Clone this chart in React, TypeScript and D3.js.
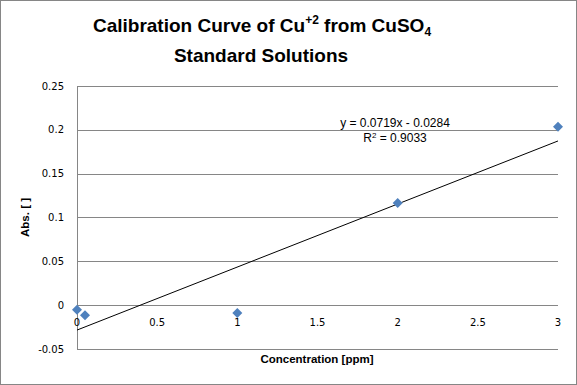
import React from 'react';
import * as d3 from 'd3';

const concentration = [0, 0.05, 1, 2, 3];
const absorbance = [-0.0053, -0.0114, -0.009, 0.1165, 0.2035];
const yTicks = [-0.05, 0, 0.05, 0.1, 0.15, 0.2, 0.25];
const xTicks = [0, 0.5, 1, 1.5, 2, 2.5, 3];
const slope = 0.0719;
const intercept = -0.0284;

const W = 577;
const H = 385;
const margin = { left: 77, right: 19, top: 86, bottom: 36 };

const App = () => {
  const ref = React.useRef<SVGSVGElement>(null);

  React.useEffect(() => {
    const svg = d3.select(ref.current);
    svg.selectAll('*').remove();

    const x = d3.scaleLinear().domain([0, 3]).range([margin.left, W - margin.right]);
    const y = d3.scaleLinear().domain([-0.05, 0.25]).range([H - margin.bottom, margin.top]);

    // chart border
    svg.append('rect')
      .attr('x', 0.5).attr('y', 0.5)
      .attr('width', W - 1).attr('height', H - 1)
      .attr('fill', '#fff').attr('stroke', '#868686');

    // gridlines
    svg.append('g').selectAll('line')
      .data(yTicks)
      .enter()
      .append('line')
      .attr('x1', x(0)).attr('x2', x(3))
      .attr('y1', d => Math.round(y(d)) + 0.5)
      .attr('y2', d => Math.round(y(d)) + 0.5)
      .attr('stroke', '#868686');

    // vertical axis
    svg.append('line')
      .attr('x1', Math.round(x(0)) + 0.5).attr('x2', Math.round(x(0)) + 0.5)
      .attr('y1', y(0.25)).attr('y2', y(-0.05))
      .attr('stroke', '#868686');

    const font = 'DejaVu Sans, Verdana, sans-serif';

    svg.append('g').selectAll('text')
      .data(yTicks)
      .enter()
      .append('text')
      .attr('x', 64)
      .attr('y', d => y(d))
      .attr('dy', '0.36em')
      .attr('text-anchor', 'end')
      .attr('font-family', font)
      .attr('font-size', 10)
      .attr('fill', '#000')
      .text(d => String(d));

    svg.append('g').selectAll('text')
      .data(xTicks)
      .enter()
      .append('text')
      .attr('x', d => x(d))
      .attr('y', y(0) + 21)
      .attr('text-anchor', 'middle')
      .attr('font-family', font)
      .attr('font-size', 10)
      .attr('fill', '#000')
      .text(d => String(d));

    // trendline
    svg.append('line')
      .attr('x1', x(0)).attr('y1', y(intercept))
      .attr('x2', x(3)).attr('y2', y(intercept + slope * 3))
      .attr('stroke', '#000').attr('stroke-width', 1);

    // markers
    const r = 5;
    svg.append('g').selectAll('path')
      .data(concentration)
      .enter()
      .append('path')
      .attr('d', (d, i) => {
        const cx = x(d), cy = y(absorbance[i]);
        return `M${cx},${cy - r}L${cx + r},${cy}L${cx},${cy + r}L${cx - r},${cy}Z`;
      })
      .attr('fill', '#4f81bd');

    // equation
    const eq = svg.append('g')
      .attr('font-family', 'Liberation Sans, Arial, sans-serif')
      .attr('font-size', 12)
      .attr('text-anchor', 'middle')
      .attr('fill', '#000');
    eq.append('text').attr('x', 395).attr('y', 127)
      .text(`y = ${slope}x - ${Math.abs(intercept)}`);
    const r2 = eq.append('text').attr('x', 395).attr('y', 142);
    r2.append('tspan').text('R');
    r2.append('tspan').attr('font-size', 8).attr('dy', -4).text('2');
    r2.append('tspan').attr('dy', 4).text(' = 0.9033');

    // title
    const title = svg.append('g')
      .attr('font-family', 'Liberation Sans, Arial, sans-serif')
      .attr('font-weight', 'bold')
      .attr('font-size', 19)
      .attr('text-anchor', 'middle')
      .attr('fill', '#000');
    const t1 = title.append('text').attr('x', 262).attr('y', 32);
    t1.append('tspan').text('Calibration Curve of Cu');
    t1.append('tspan').attr('font-size', 12).attr('dy', -8).text('+2');
    t1.append('tspan').attr('dy', 8).text(' from CuSO');
    t1.append('tspan').attr('font-size', 12).attr('dy', 4).text('4');
    title.append('text').attr('x', 261).attr('y', 62).text('Standard Solutions');

    // axis titles
    svg.append('text')
      .attr('x', 317).attr('y', 363)
      .attr('text-anchor', 'middle')
      .attr('font-family', 'Liberation Sans, Arial, sans-serif')
      .attr('font-weight', 'bold')
      .attr('font-size', 11.5)
      .text('Concentration [ppm]');

    svg.append('text')
      .attr('transform', `translate(29,${(y(0.25) + y(-0.05)) / 2}) rotate(-90)`)
      .attr('text-anchor', 'middle')
      .attr('font-family', 'Liberation Sans, Arial, sans-serif')
      .attr('font-weight', 'bold')
      .attr('font-size', 11.5)
      .text('Abs. [ ]');
  }, []);

  return (
    <div style={{ position: 'absolute', left: 0, top: 0 }}>
      <svg ref={ref} width={W} height={H} style={{ display: 'block' }}></svg>
    </div>
  );
};

export default App;
